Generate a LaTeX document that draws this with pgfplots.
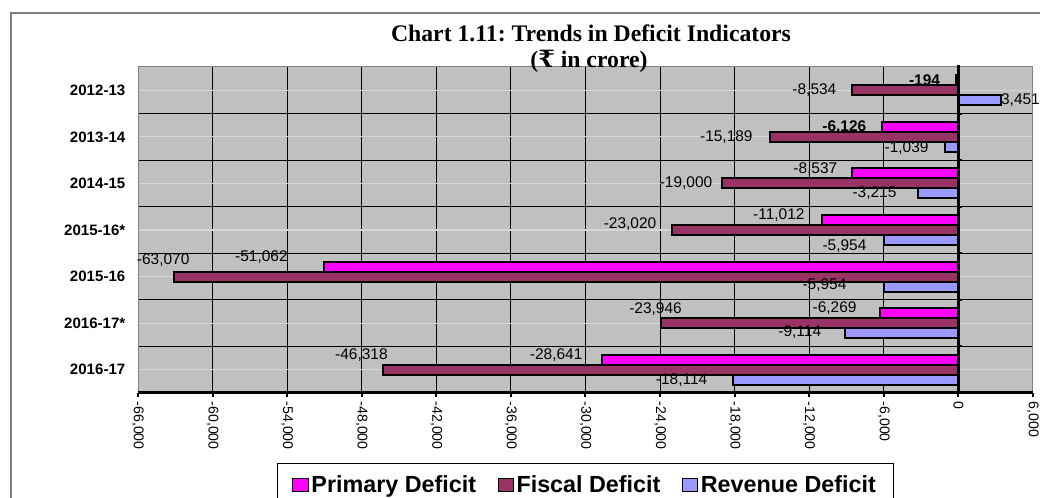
\documentclass[border=0pt]{standalone}
\usepackage{fontspec}
\setmainfont{Liberation Sans}
\newfontfamily\titlefont{Liberation Serif}
\newfontfamily\rupeefont{DejaVu Serif}
\usepackage{pgfplots}
\usepackage{pgfplotstable}
\pgfplotsset{compat=1.18}
\frenchspacing
\definecolor{prim}{HTML}{FF00FF}
\definecolor{fisc}{HTML}{993366}
\definecolor{reve}{HTML}{9999FF}
\definecolor{plotbg}{HTML}{C0C0C0}
\definecolor{midline}{HTML}{D6D6D6}
\definecolor{framegray}{HTML}{808080}

% c: row (6 = 2012-13 at the top); v: Rs crore
\pgfplotstableread{
c v lab
6 -194 {\textbf{-194}}
5 -6126 {\textbf{-6,126}}
4 -8537 -8,537
3 -11012 -11,012
2 -51062 -51,062
1 -6269 -6,269
0 -28641 -28,641
}\primary
\pgfplotstableread{
c v lab
6 -8534 -8,534
5 -15189 -15,189
4 -19000 -19,000
3 -23020 -23,020
2 -63070 -63,070
1 -23946 -23,946
0 -46318 -46,318
}\fiscal
\pgfplotstableread{
c v lab
6 3451 3,451
5 -1039 -1,039
4 -3215 -3,215
3 -5954 -5,954
2 -5954 -5,954
1 -9114 -9,114
0 -18114 -18,114
}\revenue

% label offsets from the bar end, px, one per row (dy upwards)
\pgfplotsset{
  lbl/.style 2 args={point meta=explicit symbolic, nodes near coords,
    visualization depends on={\coordindex \as \ci},
    nodes near coords style={anchor=east, inner sep=0pt,
      xshift={#1[\ci]*0.75pt}, yshift={#2[\ci]*0.75pt},
      font=\fontsize{11.6}{13}\selectfont, text=black}},
}

\begin{document}
\begin{tikzpicture}[x=0.75pt,y=-0.75pt]
\path[use as bounding box] (0,0) rectangle (1040,498);
\draw[framegray,line width=1.5pt] (11,530) -- (11,13) -- (1060,13);
\coordinate (O) at (138,67);
\begin{axis}[
  at={(O)}, anchor=north west, scale only axis,
  width=671.25pt, height=244.5pt,
  xbar, bar width=7.5pt, clip=false,
  xmin=-66000, xmax=6000, ymin=-0.5, ymax=6.5,
  xtick={-66000,-60000,...,6000},
  scaled ticks=false,
  ytick={0,...,6},
  yticklabels={2016-17,2016-17*,2015-16,2015-16*,2014-15,2013-14,2012-13},
  minor ytick={-0.5,0.5,...,6.5},
  xmajorgrids, ymajorgrids, yminorgrids,
  major x grid style={black,line width=0.75pt},
  major y grid style={midline,line width=0.9pt},
  minor y grid style={black,line width=0.75pt},
  axis background/.style={fill=plotbg},
  axis line style={framegray,line width=0.75pt},
  xtick pos=bottom, tick align=outside, major tick length=3pt,
  minor tick length=0pt,
  xtick style={black,line width=1.5pt},
  ytick style={draw=none},
  xticklabel style={rotate=-90, anchor=west, font=\fontsize{10.6}{12}\selectfont},
  yticklabel style={font=\fontsize{11.3}{13}\selectfont\bfseries, xshift=-3pt},
  /pgf/number format/.cd, fixed, 1000 sep={,}, assume math mode=true, /pgfplots/.cd,
  legend columns=3,
  legend style={at={(0.5,-0.2147)}, anchor=north, draw=black, line width=0.75pt,
    fill=white, font=\fontsize{17.5}{21}\selectfont\bfseries,
    inner xsep=11pt, inner ysep=7pt,
    nodes={inner xsep=2pt},
    /tikz/every even column/.append style={column sep=14pt}},
  legend image code/.code={\draw[#1,line width=0.75pt] (0pt,-4.8pt) rectangle (11.5pt,4.8pt);},
]
\addplot[fill=prim, draw=black, line width=1.5pt, bar shift=7.5pt,
  lbl={{-15,-15,-14,-16,-35,-23,-19}}{{0,0,4.5,4.5,9,5,4.7}}]
  table[x=v, y=c, meta=lab] {\primary};
\addplot[fill=fisc, draw=black, line width=1.5pt, bar shift=0pt,
  lbl={{-15,-16,-9,-15,16,22,6}}{{0,0,0,5.5,16.5,14,14.5}}]
  table[x=v, y=c, meta=lab] {\fiscal};
\addplot[fill=reve, draw=black, line width=1.5pt, bar shift=-7.5pt,
  lbl={{39.5,-16,-21,-17,-37,-23,-25}}{{0,-1,0,-6,1.5,1,0}}]
  table[x=v, y=c, meta=lab] {\revenue};
\legend{Primary Deficit,Fiscal Deficit,Revenue Deficit}
\draw[line width=2.25pt] (axis cs:0,-0.5) -- (axis cs:0,6.55);
\draw[line width=2.25pt] (axis cs:-66000,-0.5) -- (axis cs:6000,-0.5);
\pgfplotsinvokeforeach{0.5,1.5,...,5.5}{
  \draw[line width=1.5pt] (axis cs:0,#1) -- ++(3pt,0pt);
}
\end{axis}
\node[font=\titlefont\fontsize{17.8}{20}\selectfont\bfseries] at (591,33)
  {Chart 1.11: Trends in Deficit Indicators};
\node[font=\titlefont\fontsize{17.8}{20}\selectfont\bfseries] at (589,61)
  {({\rupeefont ₹} in crore)};
\end{tikzpicture}
\end{document}
